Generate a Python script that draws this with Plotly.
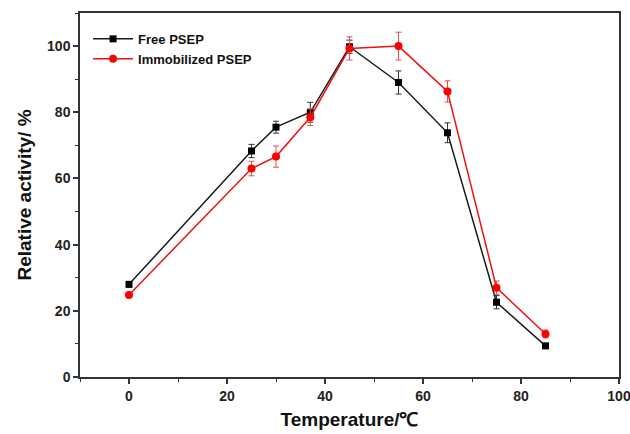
import plotly.graph_objects as go

temps = [0, 25, 30, 37, 45, 55, 65, 75, 85]
free_vals = [28.0, 68.3, 75.5, 80.0, 99.8, 89.0, 73.8, 22.6, 9.4]
free_err = [0.8, 2.0, 1.8, 3.0, 2.0, 3.5, 3.0, 2.0, 0.8]
imm_vals = [24.8, 63.0, 66.6, 78.5, 99.3, 100.0, 86.3, 27.0, 13.0]
imm_err = [0.8, 2.2, 3.2, 2.5, 3.5, 4.2, 3.2, 2.0, 1.2]

fig = go.Figure()
fig.add_trace(go.Scatter(
    x=temps, y=free_vals, name="Free PSEP", mode="lines+markers",
    line=dict(color="#1a1a1a", width=1.5),
    marker=dict(symbol="square", size=7, color="black"),
    error_y=dict(type="data", array=free_err, color="#333333", thickness=1, width=3),
))
fig.add_trace(go.Scatter(
    x=temps, y=imm_vals, name="Immobilized PSEP", mode="lines+markers",
    line=dict(color="#ee1111", width=1.5),
    marker=dict(symbol="circle", size=8, color="red"),
    error_y=dict(type="data", array=imm_err, color="#e05050", thickness=1, width=3),
))

axis_common = dict(
    showline=True, linecolor="#333333", linewidth=1.5, mirror=True,
    ticks="outside", ticklen=5, tickwidth=1.5, tickcolor="#333333",
    showgrid=False, zeroline=False, automargin=False, ticklabeloverflow="allow",
    tickfont=dict(family="Liberation Sans, Arial", size=14, color="#222222", weight="bold"),
)
fig.update_xaxes(
    range=[-10, 100], tickvals=[0, 20, 40, 60, 80, 100],
    minor=dict(ticks="outside", ticklen=3, tickwidth=1.2, tickcolor="#333333", dtick=10, tick0=0),
    title=dict(text="Temperature/℃", font=dict(family="Liberation Sans, Arial", size=19, color="#111111", weight="bold"), standoff=10),
    **axis_common,
)
fig.update_yaxes(
    range=[0, 110], tickvals=[0, 20, 40, 60, 80, 100],
    minor=dict(ticks="outside", ticklen=3, tickwidth=1.2, tickcolor="#333333", dtick=10, tick0=0),
    title=dict(text="Relative activity/ %", font=dict(family="Liberation Sans, Arial", size=19, color="#111111", weight="bold"), standoff=10),
    **axis_common,
)
fig.update_layout(
    width=630, height=434,
    margin=dict(l=80, r=11, t=13, b=57),
    paper_bgcolor="white", plot_bgcolor="white",
    showlegend=True,
    legend=dict(x=0.015, y=0.97, xanchor="left", yanchor="top",
                font=dict(family="Liberation Sans, Arial", size=13, color="#111111", weight="bold"),
                bgcolor="rgba(0,0,0,0)", itemwidth=40, tracegroupgap=0),
)
fig.write_html("out.html", config={"displayModeBar": False},
               post_script="document.body.style.margin='0';document.body.style.overflow='hidden';")
